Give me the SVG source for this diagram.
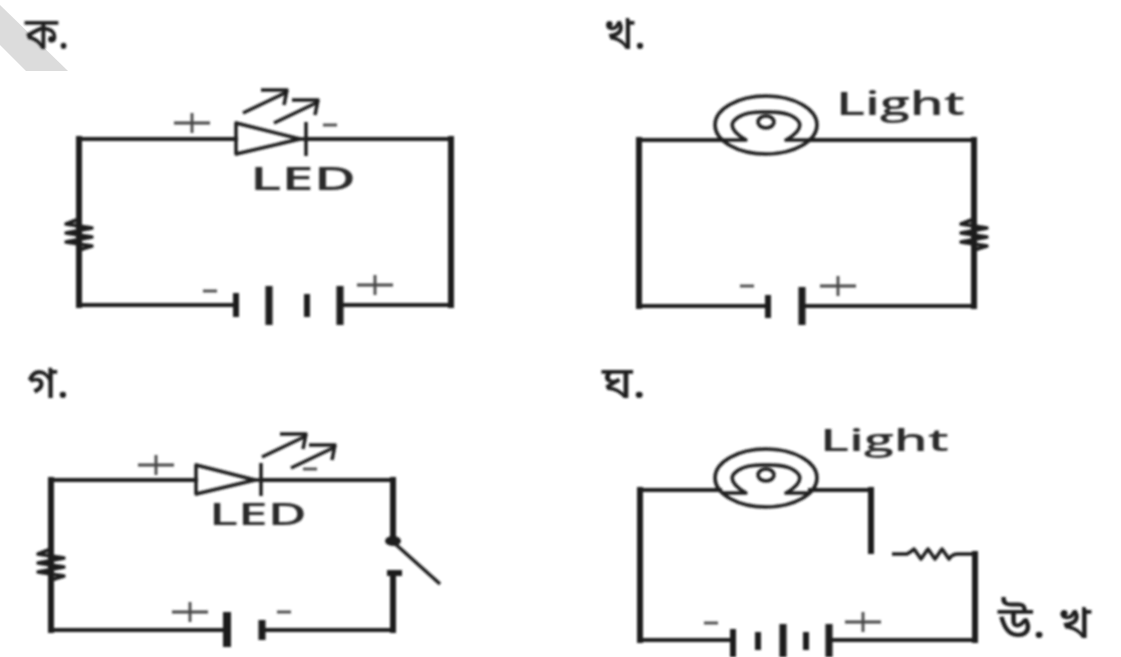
<svg xmlns="http://www.w3.org/2000/svg" width="1121" height="657" viewBox="0 0 1121 657">
<style>
.h{fill:none;stroke:#1c1c1c;stroke-width:4;stroke-linecap:square}
.v{fill:none;stroke:#1c1c1c;stroke-width:6;stroke-linecap:square}
.t{fill:none;stroke:#1c1c1c;stroke-width:3.5;stroke-linejoin:round}
.p{fill:none;stroke:#444;stroke-width:2.8}
.b{fill:none;stroke:#1c1c1c;stroke-linecap:butt}
text{font-family:"Open Sans","Noto Sans",sans-serif;font-weight:600;fill:#2b2b2b}
.bn{font-family:"Noto Sans Bengali","Noto Serif Bengali","Noto Sans",sans-serif;font-size:44px;font-weight:500;fill:#1c1c1c}
</style>
<defs>
<filter id="soft" x="-5%" y="-5%" width="110%" height="110%"><feGaussianBlur stdDeviation="0.9"/></filter>
<g id="lamp"><ellipse class="t" stroke-width="3" cx="0" cy="0" rx="51" ry="29"/><ellipse class="t" cx="0" cy="-3" rx="8" ry="6"/><path class="t" stroke-width="4" d="M-43 15H-20Q-37 5 -33 -3Q-25 -14 0 -13Q25 -14 33 -3Q37 5 20 15H43"/></g>
<path id="coil" class="t" stroke-width="3" d="M0 -15L-13 -10L13 -6L-13 -1L13 3L-13 8L13 12L0 16"/>
<path id="plus" class="p" d="M-18 0H18M0 -10V10"/>
<path id="minus" class="p" d="M-7 0H7"/>
<path id="ray" class="t" d="M0 0L44 -21M18 -23H44L41 -8"/>
</defs>
<rect width="1121" height="657" fill="#fff"/>
<polygon points="0,5 68,71 26,71 0,45" fill="#dcdcdc"/>
<g filter="url(#soft)">
<g id="connectors">
<path class="h" d="M236 139H79M79 305H236M306 139H451M451 305H342"/>
<path class="v" d="M79 139V305M451 139V305"/>
<path class="h" d="M720 140H639M639 306H767M810 140H974M974 306H802"/>
<path class="v" d="M639 140V306M974 140V306"/>
<path class="h" d="M196 480H51M51 630H227M262 480H393M393 630H262"/>
<path class="v" d="M51 480V630M393 480V540M393 573V630"/>
<path class="h" d="M720 490H640M640 640H733M810 490H871M975 640H829"/>
<path class="v" d="M640 490V640M871 490V551M975 554V640"/>
</g>
<g id="panel-a">
<text class="bn" x="25" y="49" textLength="44" lengthAdjust="spacingAndGlyphs">ক.</text>
<polygon class="t" points="236,123 236,154 300,139" stroke-width="4"/>
<path class="t" d="M296 139H306M306 122V156"/>
<use href="#ray" x="243" y="113"/><use href="#ray" x="274" y="123"/>
<use href="#plus" x="192" y="123"/><use href="#minus" x="330" y="125"/>
<text x="250" y="190" font-size="32" textLength="106" lengthAdjust="spacingAndGlyphs">LED</text>
<use href="#coil" x="79" y="234"/>
<path class="b" stroke-width="6" d="M236 293V317M307 294V317"/>
<path class="b" stroke-width="7" d="M269 286V325M340 286V325"/>
<use href="#plus" x="375" y="285"/><use href="#minus" x="210" y="291"/>
</g>
<g id="panel-b">
<text class="bn" x="604" y="49" textLength="42" lengthAdjust="spacingAndGlyphs">খ.</text>
<use href="#lamp" x="766" y="125"/>
<text x="836" y="115" font-size="32" textLength="129" lengthAdjust="spacingAndGlyphs">Light</text>
<use href="#coil" x="974" y="234"/>
<path class="b" stroke-width="6" d="M768 295V318"/>
<path class="b" stroke-width="7" d="M802 287V325"/>
<use href="#minus" x="747" y="286"/><use href="#plus" x="838" y="286"/>
</g>
<g id="panel-c">
<text class="bn" x="27" y="398" textLength="42" lengthAdjust="spacingAndGlyphs">গ.</text>
<polygon class="t" points="196,465 196,494 255,480" stroke-width="4"/>
<path class="t" d="M250 480H261M261 463V496"/>
<use href="#ray" x="262" y="457"/><use href="#ray" x="291" y="468"/>
<use href="#plus" x="156" y="465"/><use href="#minus" x="310" y="469"/>
<text x="209" y="525" font-size="30" textLength="98" lengthAdjust="spacingAndGlyphs">LED</text>
<use href="#coil" x="51" y="564"/>
<path class="t" stroke-width="5" d="M392 541L440 584"/>
<ellipse cx="393" cy="541" rx="8" ry="5" fill="#1c1c1c"/>
<path class="b" stroke-width="6" d="M387 573H402"/>
<path class="b" stroke-width="8" d="M227 612V647"/>
<path class="b" stroke-width="7" d="M262 620V640"/>
<use href="#plus" x="190" y="612"/><use href="#minus" x="284" y="612"/>
</g>
<g id="panel-d">
<text class="bn" x="602" y="398" textLength="44" lengthAdjust="spacingAndGlyphs">ঘ.</text>
<use href="#lamp" x="766" y="478"/>
<text x="820" y="451" font-size="30" textLength="129" lengthAdjust="spacingAndGlyphs">Light</text>
<path class="t" d="M892 554H907Q911 552 914 549L921 559L928 549L935 559L942 549L949 559Q952 554 958 554H975"/>
<path class="b" stroke-width="6" d="M733 629V657M758 632V650M806 632V650"/>
<path class="b" stroke-width="7" d="M783 624V657M829 624V657"/>
<use href="#minus" x="711" y="623"/><use href="#plus" x="863" y="622"/>
<text class="bn" x="998" y="638" font-size="44" textLength="93" lengthAdjust="spacingAndGlyphs">উ. খ</text>
</g>
</g>
</svg>
